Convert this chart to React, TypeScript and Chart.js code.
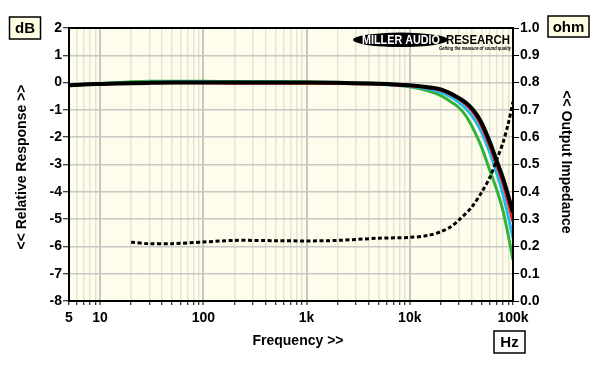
import React, { useEffect, useRef } from "react";
import { Chart, registerables } from "chart.js";

Chart.register(...registerables);

// ---- data ----
const freqs = [5, 7, 10, 15, 20, 30, 50, 100, 200, 500, 1000, 2000, 5000, 10000, 15000, 20000, 25000, 30000, 35000, 40000, 45000, 50000, 60000, 70000, 80000, 90000, 100000];
const blackDb = [-0.1, -0.07, -0.05, -0.03, -0.02, -0.01, 0, 0, 0, 0, 0, -0.01, -0.04, -0.1, -0.17, -0.25, -0.4, -0.57, -0.74, -0.95, -1.2, -1.5, -2.2, -2.9, -3.5, -4.15, -4.75];
const redDb = [-0.1, -0.07, -0.05, -0.03, -0.02, -0.01, -0.01, -0.01, -0.02, -0.02, -0.02, -0.03, -0.06, -0.12, -0.19, -0.28, -0.43, -0.6, -0.8, -1.02, -1.3, -1.62, -2.35, -3.05, -3.7, -4.4, -5.1];
const blueDb = [-0.1, -0.06, -0.04, -0.02, 0, 0.01, 0.02, 0.02, 0.01, 0.01, 0, -0.02, -0.06, -0.13, -0.23, -0.36, -0.53, -0.73, -0.96, -1.22, -1.52, -1.85, -2.6, -3.35, -4.1, -4.9, -5.7];
const greenDb = [-0.1, -0.06, -0.03, 0, 0.03, 0.05, 0.05, 0.05, 0.04, 0.03, 0.02, 0, -0.05, -0.15, -0.3, -0.48, -0.7, -0.92, -1.22, -1.6, -2.0, -2.4, -3.25, -3.95, -4.7, -5.6, -6.5];
const impFreqs = [20, 30, 50, 100, 200, 500, 1000, 2000, 5000, 10000, 15000, 20000, 25000, 30000, 40000, 50000, 60000, 70000, 80000, 90000, 100000];
const impOhm = [0.215, 0.21, 0.21, 0.216, 0.222, 0.221, 0.22, 0.222, 0.23, 0.233, 0.24, 0.254, 0.272, 0.297, 0.345, 0.4, 0.455, 0.52, 0.58, 0.65, 0.73];

const xTickValues = [5, 6, 7, 8, 9, 10, 20, 30, 40, 50, 60, 70, 80, 90, 100, 200, 300, 400, 500, 600, 700, 800, 900, 1000, 2000, 3000, 4000, 5000, 6000, 7000, 8000, 9000, 10000, 20000, 30000, 40000, 50000, 60000, 70000, 80000, 90000, 100000];
const xLabels: Record<number, string> = { 5: "5", 10: "10", 100: "100", 1000: "1k", 10000: "10k", 100000: "100k" };
const decades = [10, 100, 1000, 10000];

const FONT = '"Liberation Sans", Arial, sans-serif';

const pts = (xs: number[], ys: number[]) => xs.map((x, i) => ({ x, y: ys[i] }));

const decor = {
  id: "decor",
  beforeDraw(chart: any) {
    const { ctx, chartArea: a } = chart;
    ctx.save();
    ctx.fillStyle = "#ffffff";
    ctx.fillRect(0, 0, chart.width, chart.height);
    ctx.fillStyle = "#fefdec";
    ctx.fillRect(a.left, a.top, a.right - a.left, a.bottom - a.top);
    ctx.restore();
  },
  afterDraw(chart: any) {
    const { ctx, chartArea: a } = chart;
    ctx.save();
    // frame
    ctx.strokeStyle = "#000";
    ctx.lineWidth = 2;
    ctx.strokeRect(a.left, a.top, a.right - a.left, a.bottom - a.top);

    // boxes
    const box = (cx: number, cy: number, w: number, h: number, text: string, fill: string) => {
      ctx.fillStyle = fill;
      ctx.fillRect(cx - w / 2, cy - h / 2, w, h);
      ctx.strokeStyle = "#000";
      ctx.lineWidth = 1.5;
      ctx.strokeRect(cx - w / 2, cy - h / 2, w, h);
      ctx.fillStyle = "#000";
      ctx.font = `bold 15px ${FONT}`;
      ctx.textAlign = "center";
      ctx.textBaseline = "middle";
      ctx.fillText(text, cx, cy + 1);
    };
    box(25, 28, 31, 22, "dB", "#fffde3");
    box(568.5, 26.5, 41, 21, "ohm", "#fffde3");
    box(509.5, 342, 31, 22, "Hz", "#ffffff");

    // axis titles
    ctx.fillStyle = "#000";
    ctx.font = `bold 14px ${FONT}`;
    ctx.textAlign = "center";
    ctx.textBaseline = "middle";
    ctx.fillText("Frequency >>", 298, 341);
    ctx.save();
    ctx.translate(22, 167);
    ctx.rotate(-Math.PI / 2);
    ctx.fillText("<< Relative Response >>", 0, 0);
    ctx.restore();
    ctx.save();
    ctx.translate(566, 162);
    ctx.rotate(Math.PI / 2);
    ctx.fillText("<< Output Impedance", 0, 0);
    ctx.restore();

    // logo
    ctx.fillStyle = "#000";
    ctx.beginPath();
    ctx.ellipse(400.5, 39.8, 47.5, 7.2, 0, 0, Math.PI * 2);
    ctx.fill();
    ctx.fillStyle = "#fff";
    ctx.font = `bold 12px ${FONT}`;
    ctx.textAlign = "left";
    ctx.fillText("MILLER AUDIO", 362, 40.5, 78);
    ctx.fillStyle = "#000";
    ctx.font = `bold 13px ${FONT}`;
    ctx.fillText("RESEARCH", 446, 40.5, 64);
    ctx.font = `italic bold 5px ${FONT}`;
    ctx.fillText("Getting the measure of sound quality", 439, 49, 72);
    ctx.restore();
  },
};

export default function App() {
  const ref = useRef<HTMLCanvasElement | null>(null);
  useEffect(() => {
    if (!ref.current) return;
    const tickFont = { family: FONT, size: 14, weight: "bold" as const };
    const chart = new Chart(ref.current, {
      type: "line",
      data: {
        datasets: [
          {
            label: "Impedance",
            data: pts(impFreqs, impOhm),
            yAxisID: "y2",
            borderColor: "#000",
            borderWidth: 3,
            borderDash: [4, 2.5],
            pointRadius: 0,
            fill: false,
            tension: 0.3,
          },
          { label: "Black", data: pts(freqs, blackDb), yAxisID: "y", borderColor: "#000000", borderWidth: 4, pointRadius: 0, fill: false, cubicInterpolationMode: "monotone" },
          { label: "Red", data: pts(freqs, redDb), yAxisID: "y", borderColor: "#ee1c1c", borderWidth: 3, pointRadius: 0, fill: false, cubicInterpolationMode: "monotone" },
          { label: "Blue", data: pts(freqs, blueDb), yAxisID: "y", borderColor: "#22b8ec", borderWidth: 3, pointRadius: 0, fill: false, cubicInterpolationMode: "monotone" },
          { label: "Green", data: pts(freqs, greenDb), yAxisID: "y", borderColor: "#33b23a", borderWidth: 3, pointRadius: 0, fill: false, cubicInterpolationMode: "monotone" },
        ],
      },
      options: {
        responsive: false,
        animation: false,
        events: [],
        layout: { padding: { top: 28, left: 0, right: 0, bottom: 0 } },
        plugins: { legend: { display: false }, tooltip: { enabled: false }, title: { display: false } },
        scales: {
          x: {
            type: "logarithmic",
            position: "bottom",
            min: 5,
            max: 100000,
            afterBuildTicks: (s: any) => {
              s.ticks = xTickValues.map((v) => ({ value: v }));
            },
            afterFit: (s: any) => {
              s.height = 65;
            },
            ticks: {
              autoSkip: false,
              maxRotation: 0,
              minRotation: 0,
              padding: 5,
              color: "#000",
              font: tickFont,
              callback: (v: any) => xLabels[Number(v)] ?? "",
            },
            grid: {
              color: (c: any) => (decades.includes(c.tick?.value) ? "#c6c6c2" : "#e4e3d6"),
              lineWidth: (c: any) => (decades.includes(c.tick?.value) ? 2 : 1.5),
              tickLength: 4,
              tickColor: "#000",
              tickWidth: 1,
            },
            border: { display: true, color: "#000", width: 2 },
          },
          y: {
            position: "left",
            min: -8,
            max: 2,
            afterFit: (s: any) => {
              s.width = 69;
            },
            ticks: { stepSize: 1, padding: 1, color: "#000", font: tickFont },
            grid: { color: "#c8c8c4", lineWidth: 1.5, tickLength: 6, tickColor: "#000", tickWidth: 1 },
            border: { display: true, color: "#000", width: 2 },
          },
          y2: {
            position: "right",
            min: 0,
            max: 1,
            afterFit: (s: any) => {
              s.width = 87;
            },
            ticks: { stepSize: 0.1, padding: 1, color: "#000", font: tickFont, callback: (v: any) => Number(v).toFixed(1) },
            grid: { drawOnChartArea: false, tickLength: 6, tickColor: "#000", tickWidth: 1 },
            border: { display: true, color: "#000", width: 2 },
          },
        },
      } as any,
      plugins: [decor],
    });
    return () => chart.destroy();
  }, []);
  return (
    <div style={{ position: "fixed", left: 0, top: 0, width: 600, height: 366, background: "#fff" }}>
      <canvas ref={ref} width={600} height={366} style={{ width: 600, height: 366, display: "block" }} />
    </div>
  );
}
